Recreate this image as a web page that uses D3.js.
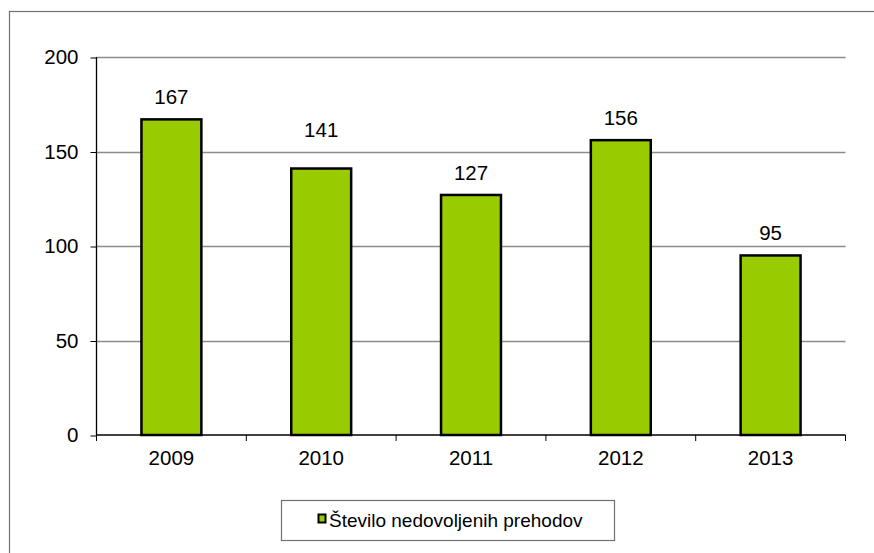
<!DOCTYPE html>
<html><head><meta charset="utf-8">
<script src="https://cdn.jsdelivr.net/npm/d3@7"></script>
<style>body{margin:0;background:#fff}svg{display:block}text{font-family:"Liberation Sans",Arial,sans-serif;fill:#000}</style>
</head><body><svg id="c" width="874" height="553"></svg>
<script>
const categories = ["2009","2010","2011","2012","2013"];
const values = [167,141,127,156,95];
const yTicks = [0,50,100,150,200];
const seriesName = "Število nedovoljenih prehodov";

const svg = d3.select("#c");
const fs = 20.5;
// outer frame
svg.append("rect").attr("x",9.5).attr("y",11.5).attr("width",880).attr("height",560)
  .attr("fill","none").attr("stroke","#707070").attr("stroke-width",1.2);

const L=96.5, R=845.5, T=57, B=435;
const x = d3.scaleBand().domain(categories).range([L,R]).paddingInner(0.6).paddingOuter(0.3);
const y = d3.scaleLinear().domain([0,200]).range([B,T]);

// gridlines
svg.append("g").selectAll("line").data(yTicks.filter(d=>d>0)).join("line")
  .attr("x1",L).attr("x2",R).attr("y1",d=>Math.round(y(d))+0.5).attr("y2",d=>Math.round(y(d))+0.5)
  .attr("stroke","#8c8c8c").attr("stroke-width",1.3);

// y axis
const ya = svg.append("g").attr("transform",`translate(${L},0)`)
  .call(d3.axisLeft(y).tickValues(yTicks).tickSize(6).tickPadding(12).tickFormat(d3.format("d")));
ya.select(".domain").remove();
ya.selectAll(".tick line").attr("stroke","#000").attr("transform","translate(0,0.5)");
ya.selectAll("text").attr("font-size",fs).attr("font-family","Liberation Sans, Arial").attr("dy","0.34em").attr("fill","#000");
svg.append("line").attr("x1",L).attr("x2",L).attr("y1",T).attr("y2",B).attr("stroke","#000").attr("stroke-width",1.3);

// bars
svg.append("g").selectAll("rect").data(values).join("rect")
  .attr("x",(d,i)=>x(categories[i])).attr("width",x.bandwidth())
  .attr("y",d=>y(d)).attr("height",d=>B-y(d))
  .attr("fill","#99cc00").attr("stroke","#000").attr("stroke-width",2.5);

// x axis line + boundary ticks
svg.append("line").attr("x1",L).attr("x2",R).attr("y1",B).attr("y2",B).attr("stroke","#000").attr("stroke-width",1.3);
const bounds = d3.range(categories.length+1).map(i=>L+i*(R-L)/categories.length);
svg.append("g").selectAll("line").data(bounds).join("line")
  .attr("x1",d=>d).attr("x2",d=>d).attr("y1",B).attr("y2",B+6).attr("stroke","#000");
svg.append("g").selectAll("text").data(categories).join("text")
  .attr("x",d=>x(d)+x.bandwidth()/2).attr("y",465).attr("text-anchor","middle")
  .attr("font-size",fs).text(d=>d);

// value labels with gridline avoidance
const gl = yTicks.filter(d=>d>0).map(d=>y(d));
svg.append("g").selectAll("text").data(values).join("text")
  .attr("x",(d,i)=>x(categories[i])+x.bandwidth()/2)
  .attr("y",d=>{let b=y(d)-15; for(const g of gl){ if(g>b-16 && g<b+3) b=g-15; } return b;})
  .attr("text-anchor","middle").attr("font-size",fs).text(d=>d);

// legend
svg.append("rect").attr("x",281.5).attr("y",500.5).attr("width",333).attr("height",40)
  .attr("fill","#fff").attr("stroke","#707070").attr("stroke-width",1.2);
svg.append("rect").attr("x",318.5).attr("y",514.5).attr("width",7).attr("height",8)
  .attr("fill","#99cc00").attr("stroke","#000").attr("stroke-width",2);
svg.append("text").attr("x",329).attr("y",527).attr("font-size",19).text(seriesName);
</script></body></html>
